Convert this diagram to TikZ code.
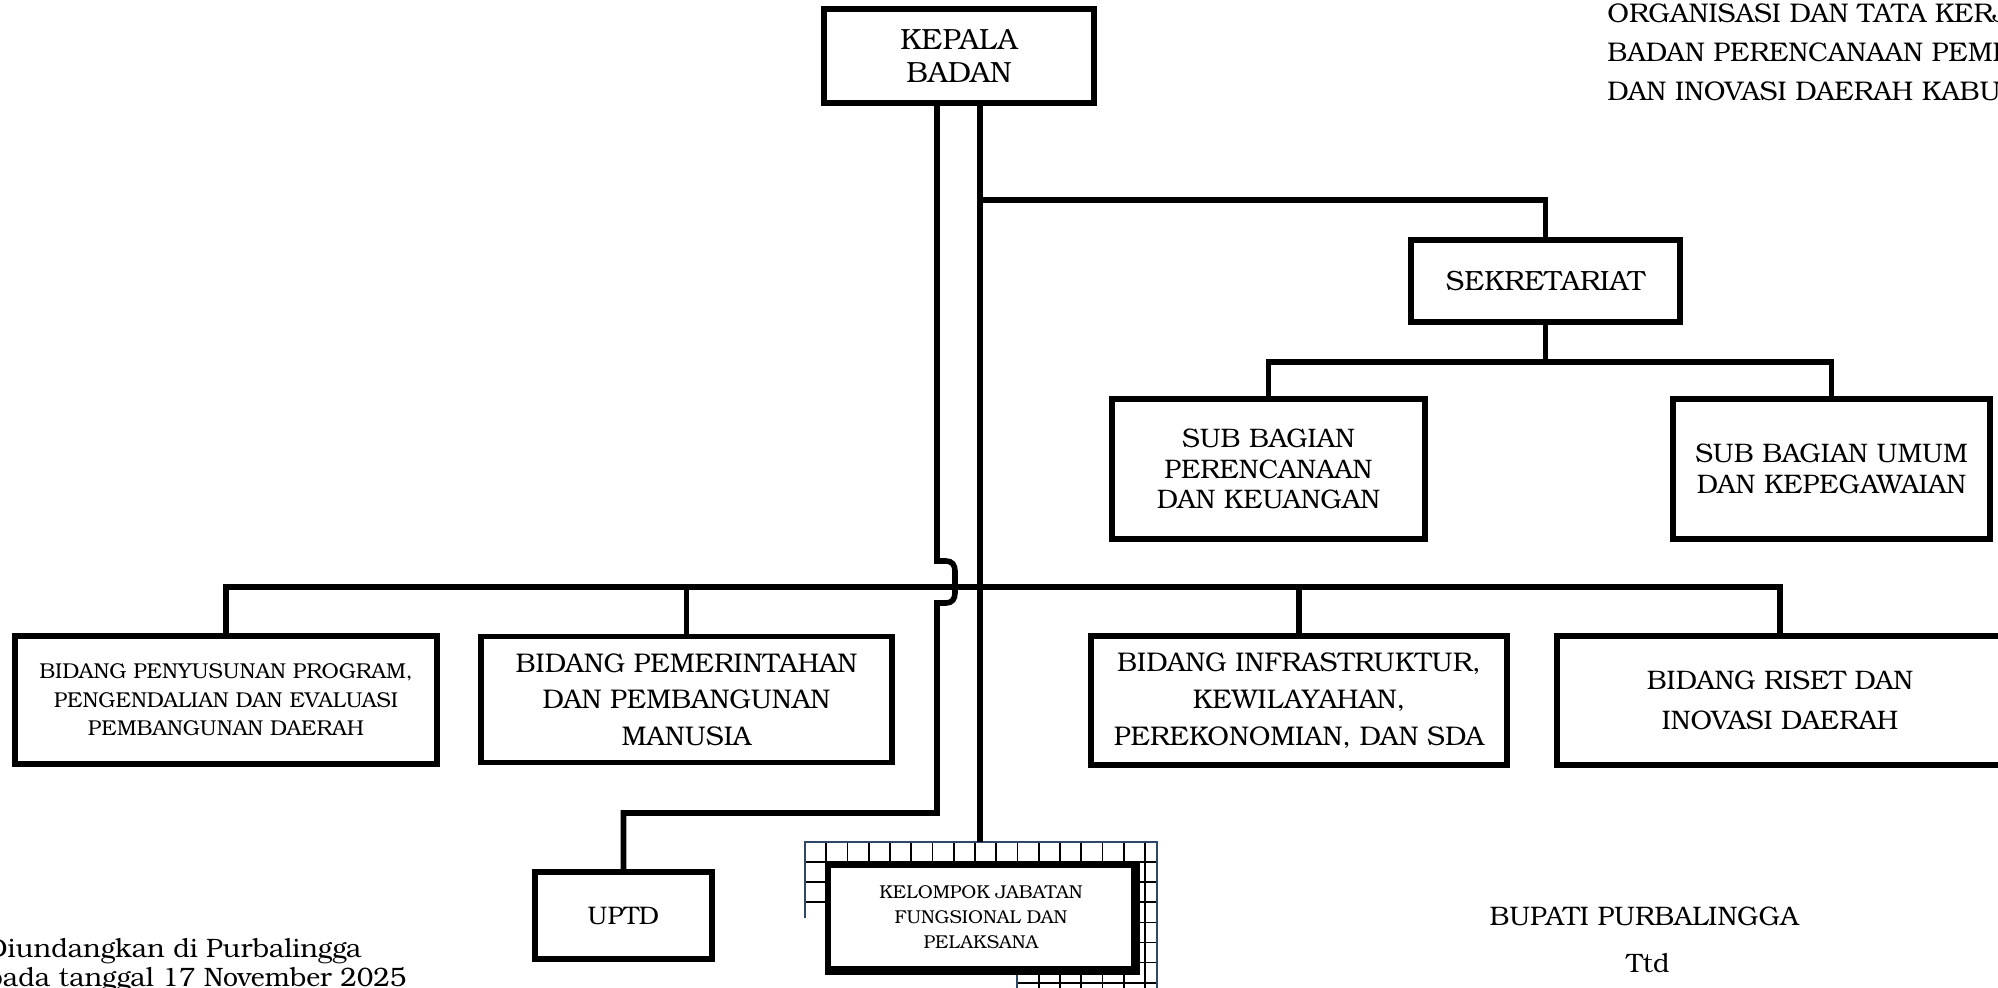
\documentclass[tikz,border=0pt]{standalone}
\usepackage{fontspec}
\setmainfont{TeX Gyre Bonum}
\definecolor{framenavy}{RGB}{47,72,106}
\begin{document}
\begin{tikzpicture}[x=0.5pt,y=-0.5pt,
  box/.style={draw=black, line width=2.9pt, fill=white, align=center, inner sep=0pt},
  conn/.style={line width=2.8pt},
  gridline/.style={line width=0.85pt},
  freetext/.style={inner sep=0pt, font=\fontsize{13.3}{15}\selectfont},
  titletext/.style={inner sep=0pt, anchor=base west, font=\fontsize{13.5}{15}\selectfont}]
\useasboundingbox (0,0) rectangle (1998,987);

% frame art around the functional group box
\begin{scope}
  \clip (805,842) -- (1157,842) -- (1157,1000) -- (1017,1000) -- (1017,918) -- (805,918) -- cycle;
  \foreach \i in {0,...,16} \draw[gridline] ({805+\i*21.25},842) -- ({805+\i*21.25},1000);
  \foreach \j in {0,...,8} \draw[gridline] (800,{842+\j*20.1}) -- (1160,{842+\j*20.1});
\end{scope}
\draw[framenavy, line width=1.4pt] (805,918) -- (805,842) -- (1157,842) -- (1157,1000);
\draw[framenavy, line width=1.4pt] (1017,975) -- (1017,1000);

% boxes
\node[box, minimum width=135pt, minimum height=47pt, font=\fontsize{14.6}{16.5}\selectfont] (kepala) at (959,56) {KEPALA\\BADAN};
\node[box, minimum width=134.5pt, minimum height=41pt, font=\fontsize{13.9}{16}\selectfont] (sekr) at (1545.5,281) {SEKRETARIAT};
\node[box, minimum width=156.5pt, minimum height=70pt, font=\fontsize{13.4}{15.4}\selectfont] (sbpk) at (1268.5,469) {SUB BAGIAN\\PERENCANAAN\\DAN KEUANGAN};
\node[box, minimum width=158.5pt, minimum height=70pt, font=\fontsize{13.4}{15.8}\selectfont] (sbu) at (1831.5,469) {SUB BAGIAN UMUM\\DAN KEPEGAWAIAN};
\node[box, minimum width=211pt, minimum height=64pt, font=\fontsize{10.75}{14.2}\selectfont] (b1) at (226,700) {BIDANG PENYUSUNAN PROGRAM,\\PENGENDALIAN DAN EVALUASI\\PEMBANGUNAN DAERAH};
\node[box, minimum width=205.5pt, minimum height=63pt, font=\fontsize{13.5}{18.2}\selectfont] (b2) at (686.5,699.5) {BIDANG PEMERINTAHAN\\DAN PEMBANGUNAN\\MANUSIA};
\node[box, minimum width=208pt, minimum height=64.5pt, font=\fontsize{13.5}{18.5}\selectfont] (b3) at (1299,700.5) {BIDANG INFRASTRUKTUR,\\KEWILAYAHAN,\\PEREKONOMIAN, DAN SDA};
\node[box, minimum width=223pt, minimum height=64.5pt, font=\fontsize{13.4}{20}\selectfont] (b4) at (1780,700.5) {BIDANG RISET DAN\\INOVASI DAERAH};
\node[box, minimum width=88.5pt, minimum height=43.5pt, font=\fontsize{12.7}{14}\selectfont] (uptd) at (623.5,915.5) {UPTD};
\node[box, line width=2.6pt, minimum width=153pt, minimum height=52pt, font=\fontsize{9.3}{12.4}\selectfont] (kjf) at (981,917) {KELOMPOK JABATAN\\FUNGSIONAL DAN\\PELAKSANA};
\draw[line width=1.6pt] ([xshift=1pt]kjf.north east) -- ([shift={(1pt,-1pt)}]kjf.south east) -- ([yshift=-1pt]kjf.south west);

% junction coordinates
\coordinate (xL) at (937,0);
\coordinate (xR) at (980,0);
\coordinate (jS) at (980,200);
\coordinate (jSub) at (1545.5,362);
\coordinate (jBus) at (980,587);
\coordinate (jU) at (937,813);
\coordinate (kjfT) at (980,842);

% connectors
\draw[conn] (kepala.south -| xR) -- (kjfT);
\draw[conn] (jS) -| (sekr.north);
\draw[conn] (sekr.south) -- (jSub);
\draw[conn] (sbpk.north) |- (jSub) -| (sbu.north);
\draw[conn] (b1.north) |- (jBus) -| (b4.north);
\draw[conn] (b2.north) -- (b2.north |- jBus);
\draw[conn] (b3.north) -- (b3.north |- jBus);
\draw[conn] (kepala.south -| xL) -- (937,561) -- (946,561)
   .. controls (952,561) and (955,565) .. (955,571) -- (955,593)
   .. controls (955,599) and (952,603) .. (946,603) -- (937,603) -- (jU) -| (uptd.north);

% free texts
\node[titletext] (t1) at (1607,22) {ORGANISASI DAN TATA KERJ};
\node[titletext] (t2) at (1607,61) {BADAN PERENCANAAN PEME};
\node[titletext] (t3) at (1607,100) {DAN INOVASI DAERAH KABU};
\node[freetext, anchor=base west] (d1) at (-14,957) {Diundangkan di Purbalingga};
\node[freetext, anchor=base west] (d2) at (-14,986) {pada tanggal 17 November 2025};
\node[freetext, font=\fontsize{13.4}{15}\selectfont, anchor=base] (bup) at (1644,925) {BUPATI PURBALINGGA};
\node[freetext, anchor=base] (ttd) at (1648,972) {Ttd};
\end{tikzpicture}
\end{document}
